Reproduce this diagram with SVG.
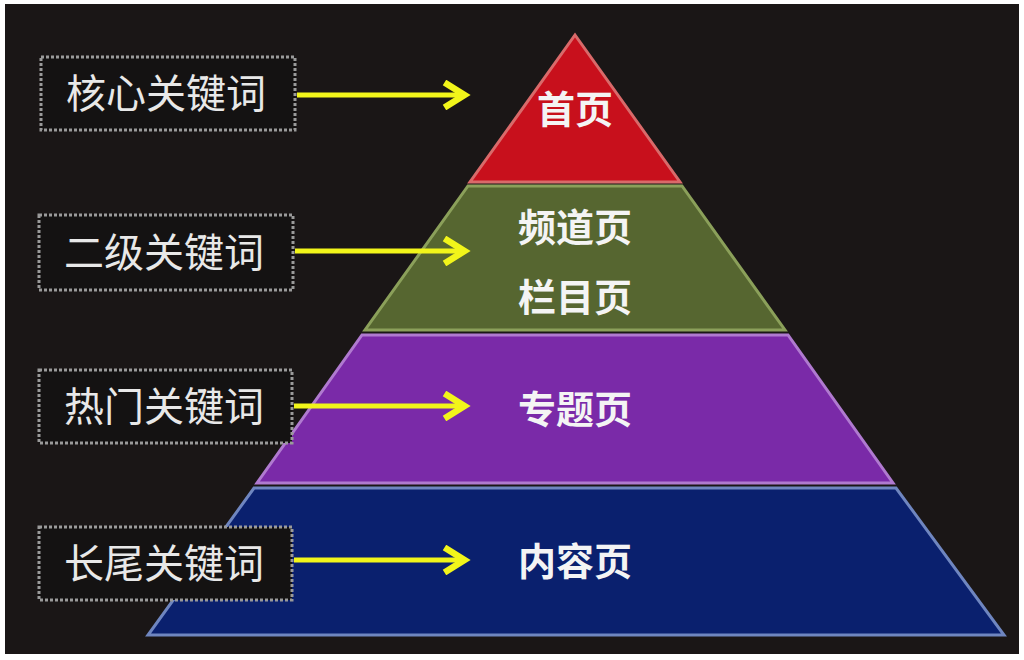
<svg xmlns="http://www.w3.org/2000/svg" width="1024" height="660" viewBox="0 0 1024 660">
<style>
.lbl{fill:#141212;stroke:#9a9a9a;stroke-width:3;stroke-dasharray:3 2}
.lt{font-family:"Noto Sans CJK SC",sans-serif;font-size:40px;fill:#e8e8e8;text-anchor:middle}
.pt{font-family:"Noto Sans CJK SC",sans-serif;font-size:38px;font-weight:bold;fill:#f4f4f4;text-anchor:middle}
.ar{stroke:#f2f51a;stroke-width:5;fill:none}
</style>
<defs><marker id="ah" markerWidth="6" markerHeight="6" refX="4" refY="3" orient="auto" markerUnits="strokeWidth"><path d="M0.5,0.5 L4.5,3 L0.5,5.5" fill="none" stroke="#f2f51a" stroke-width="1.3"/></marker></defs>
<rect width="1024" height="660" fill="#fff"/>
<rect x="5" y="4" width="1014" height="650" fill="#1a1616"/>
<g id="pyr-1"><polygon points="575,35 680,182 470,182" fill="#c8101c" stroke="#d96a6a" stroke-width="3"/><text class="pt" x="575" y="123">首页</text></g>
<g id="pyr-2"><polygon points="468,186 682,186 785,330 365,330" fill="#566630" stroke="#8ba05a" stroke-width="3"/><text class="pt" x="575" y="241">频道页</text><text class="pt" x="575" y="311">栏目页</text></g>
<g id="pyr-3"><polygon points="362,335 788,335 893,483 257,483" fill="#7a2aa8" stroke="#b07ad0" stroke-width="3"/><text class="pt" x="575" y="423">专题页</text></g>
<g id="pyr-4"><polygon points="254,488 896,488 1004,635 148,635" fill="#0a206e" stroke="#6f86c0" stroke-width="3"/><text class="pt" x="575" y="575">内容页</text></g>
<g id="lab-1"><rect class="lbl" x="41" y="57" width="254" height="73"/><text class="lt" x="166" y="108">核心关键词</text></g>
<g id="lab-2"><rect class="lbl" x="39" y="215" width="254" height="75"/><text class="lt" x="164" y="267">二级关键词</text></g>
<g id="lab-3"><rect class="lbl" x="39" y="370" width="253" height="73"/><text class="lt" x="164" y="421">热门关键词</text></g>
<g id="lab-4"><rect class="lbl" x="39" y="527" width="253" height="73"/><text class="lt" x="164" y="578">长尾关键词</text></g>
<g id="connectors">
<line class="ar" x1="297" y1="95" x2="462" y2="95" marker-end="url(#ah)"/>
<line class="ar" x1="295" y1="251" x2="462" y2="251" marker-end="url(#ah)"/>
<line class="ar" x1="294" y1="406" x2="462" y2="406" marker-end="url(#ah)"/>
<line class="ar" x1="294" y1="560" x2="462" y2="560" marker-end="url(#ah)"/>
</g>
</svg>
